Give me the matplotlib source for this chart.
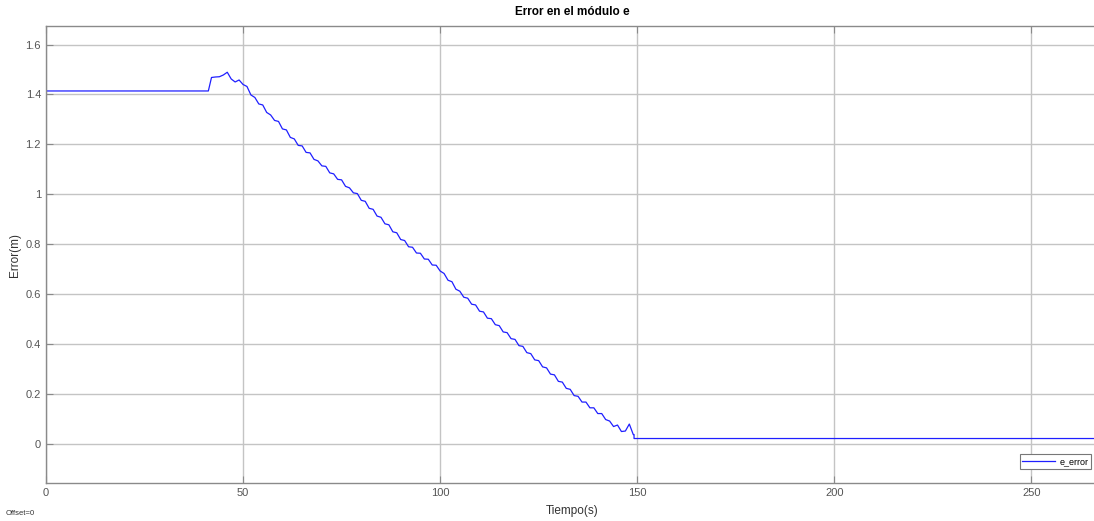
import numpy as np
import matplotlib
matplotlib.use("Agg")
import matplotlib.pyplot as plt

plt.rcParams['font.family'] = ['Liberation Sans', 'DejaVu Sans']

# Error signal logged by the scope (seconds, metres)
t_start = [0, 41.2]
e_start = [1.414, 1.414]

t_ramp = np.arange(42, 150)
e_ramp = [
    1.468, 1.470, 1.471, 1.478, 1.489, 1.462, 1.450, 1.458, 1.440, 1.432,
    1.398, 1.388, 1.362, 1.358, 1.328, 1.318, 1.296, 1.292, 1.262, 1.258,
    1.228, 1.222, 1.196, 1.194, 1.168, 1.166, 1.140, 1.134, 1.114, 1.112,
    1.086, 1.082, 1.060, 1.058, 1.032, 1.026, 1.006, 1.003, 0.976, 0.972,
    0.944, 0.940, 0.913, 0.908, 0.882, 0.878, 0.850, 0.846, 0.819, 0.815,
    0.790, 0.788, 0.765, 0.764, 0.741, 0.740, 0.717, 0.716, 0.693, 0.683,
    0.656, 0.650, 0.620, 0.612, 0.588, 0.584, 0.560, 0.557, 0.532, 0.529,
    0.504, 0.502, 0.478, 0.474, 0.449, 0.446, 0.422, 0.419, 0.394, 0.391,
    0.366, 0.362, 0.337, 0.334, 0.309, 0.305, 0.280, 0.277, 0.251, 0.248,
    0.223, 0.219, 0.194, 0.191, 0.168, 0.168, 0.145, 0.145, 0.122, 0.122,
    0.098, 0.092, 0.070, 0.076, 0.050, 0.052, 0.080, 0.038,
]

t_end = [149.2, 149.2, 267]
e_end = [0.038, 0.022, 0.022]

t = np.concatenate([t_start, t_ramp, t_end])
e = np.concatenate([e_start, e_ramp, e_end])

x_ticks = [0, 50, 100, 150, 200, 250]
y_ticks = [0, 0.2, 0.4, 0.6, 0.8, 1.0, 1.2, 1.4, 1.6]
y_labels = ['0', '0.2', '0.4', '0.6', '0.8', '1', '1.2', '1.4', '1.6']

fig = plt.figure(figsize=(10.94, 5.21), dpi=100)
ax = fig.add_axes([0.042, 0.073, 0.962, 0.877])

ax.plot(t, e, color='#1f1fff', lw=0.9, label='e_error')

ax.set_xlim(0, 267)
ax.set_ylim(-0.156, 1.674)
ax.set_xticks(x_ticks)
ax.set_yticks(y_ticks)
ax.set_yticklabels(y_labels)

ax.grid(True, color='#c4c4c4', lw=1.0)
ax.set_axisbelow(True)
for side in ['left', 'bottom', 'top']:
    ax.spines[side].set_color('#8a8a8a')
    ax.spines[side].set_linewidth(1.0)
ax.spines['right'].set_visible(False)
ax.tick_params(direction='in', length=5, width=0.8, colors='#8a8a8a',
               labelcolor='#555555', labelsize=8, top=True)

ax.set_title('Error en el módulo e', fontsize=8.5, fontweight='bold', pad=8)
ax.set_xlabel('Tiempo(s)', fontsize=8.5, color='#333333', labelpad=5)
ax.set_ylabel('Error(m)', fontsize=8.5, color='#333333', labelpad=3)

leg = ax.legend(loc='lower right', bbox_to_anchor=(0.993, 0.031),
                borderaxespad=0, fontsize=6.5, fancybox=False,
                handlelength=3.6, handletextpad=0.5, borderpad=0.3,
                framealpha=1)
leg.get_frame().set_edgecolor('#777777')
leg.get_frame().set_linewidth(0.8)

fig.text(0.005, 0.012, 'Offset=0', fontsize=5.5, color='#333333')

fig.savefig('out.png', dpi=100)
